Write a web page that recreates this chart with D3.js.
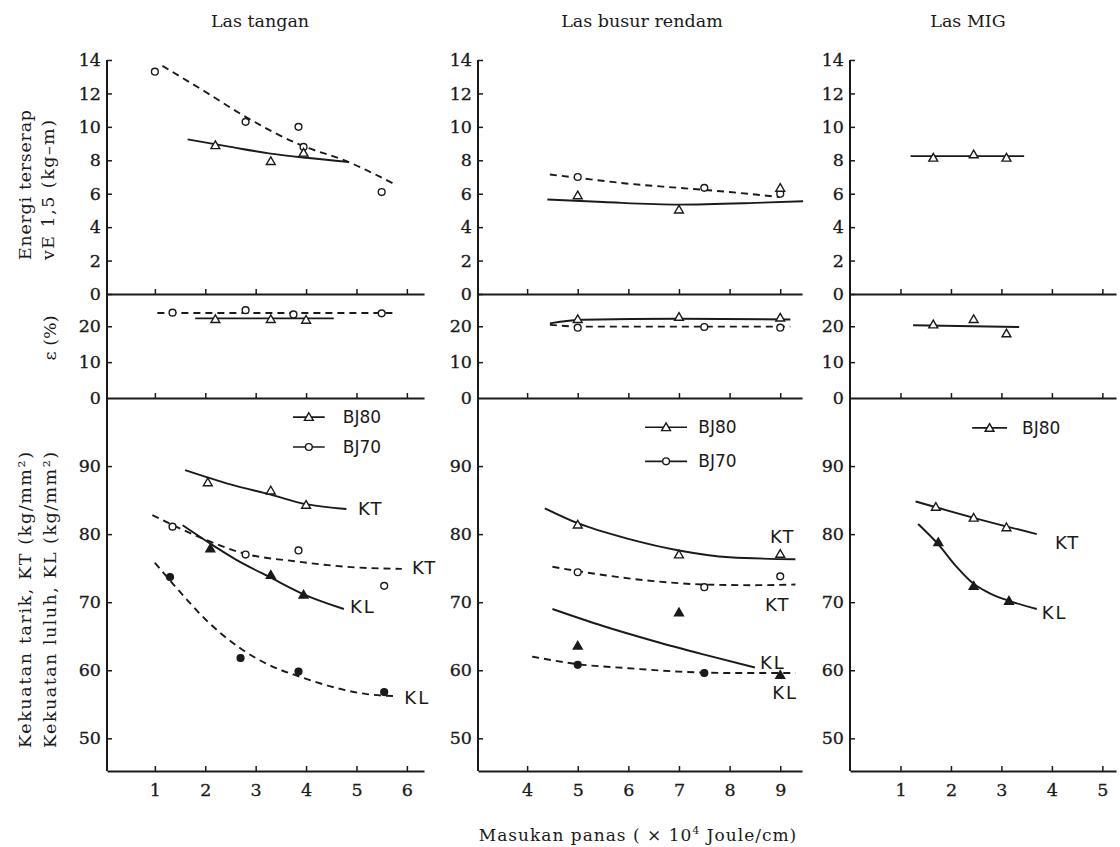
<!DOCTYPE html>
<html>
<head>
<meta charset="utf-8">
<script src="https://cdn.jsdelivr.net/npm/d3@7"></script>
<style>
  body { margin: 0; background: #fff; }
  svg text { fill: #1a1a1a; }
</style>
</head>
<body>
<svg id="chart" width="1120" height="847"></svg>
<script>
// ---- Las tangan ----
const tanganVE80Pts = [[2.2, 8.9], [3.3, 7.95], [3.95, 8.45]];
const tanganVE80Fit = [[1.65, 9.25], [2.5, 8.8], [3.3, 8.4], [4.0, 8.15], [4.85, 7.9]];
const tanganVE70Pts = [[1.0, 13.3], [2.8, 10.3], [3.85, 10.0], [3.95, 8.8], [5.5, 6.1]];
const tanganVE70Fit = [[1.15, 13.65], [2.0, 12.1], [2.8, 10.6], [3.9, 8.9], [4.8, 7.95], [5.8, 6.5]];
const tanganEl80Pts = [[2.2, 22.0], [3.3, 22.0], [4.0, 21.8]];
const tanganEl80Fit = [[1.8, 22.2], [4.55, 22.2]];
const tanganEl70Pts = [[1.35, 23.8], [2.8, 24.5], [3.75, 23.3], [5.5, 23.6]];
const tanganEl70Fit = [[1.05, 23.7], [5.75, 23.7]];
const tanganKT80Pts = [[2.05, 87.6], [3.3, 86.4], [4.0, 84.3]];
const tanganKT80Fit = [[1.6, 89.4], [2.5, 87.3], [3.3, 85.8], [4.0, 84.4], [4.8, 83.7]];
const tanganKT70Pts = [[1.35, 81.1], [2.8, 77.0], [3.85, 77.6], [5.55, 72.4]];
const tanganKT70Fit = [[0.95, 82.8], [2.0, 79.2], [2.8, 77.1], [3.8, 76.0], [4.8, 75.2], [5.9, 74.9]];
const tanganKL80Pts = [[2.1, 77.9], [3.3, 74.0], [3.95, 71.1]];
const tanganKL80Fit = [[1.55, 81.3], [2.1, 78.6], [2.6, 76.3], [3.3, 73.6], [4.0, 71.0], [4.75, 69.0]];
const tanganKL70Pts = [[1.3, 73.7], [2.7, 61.8], [3.85, 59.8], [5.55, 56.8]];
const tanganKL70Fit = [[1.0, 75.8], [1.5, 71.5], [2.0, 67.5], [2.7, 63.2], [3.2, 61.0], [3.9, 59.0], [4.6, 57.4], [5.2, 56.5], [5.8, 56.2]];

// ---- Las busur rendam ----
const busurVE80Pts = [[5.0, 5.9], [7.0, 5.05], [9.0, 6.35]];
const busurVE80Fit = [[4.4, 5.65], [5.5, 5.5], [7.0, 5.35], [8.5, 5.45], [9.45, 5.55]];
const busurVE70Pts = [[5.0, 7.0], [7.5, 6.35], [9.0, 6.0]];
const busurVE70Fit = [[4.45, 7.15], [5.0, 6.95], [6.0, 6.6], [7.0, 6.35], [8.0, 6.1], [9.0, 5.8]];
const busurEl80Pts = [[5.0, 22.0], [7.0, 22.6], [9.0, 22.4]];
const busurEl80Fit = [[4.45, 20.8], [5.1, 21.8], [7.0, 22.1], [9.2, 21.9]];
const busurEl70Pts = [[5.0, 19.6], [7.5, 19.8], [9.0, 19.6]];
const busurEl70Fit = [[4.45, 20.4], [5.1, 19.9], [9.2, 19.9]];
const busurKT80Pts = [[5.0, 81.4], [7.0, 77.0], [9.0, 77.1]];
const busurKT80Fit = [[4.35, 83.8], [5.0, 81.6], [6.0, 79.3], [7.0, 77.6], [8.0, 76.6], [9.3, 76.3]];
const busurKT70Pts = [[5.0, 74.4], [7.5, 72.2], [9.0, 73.8]];
const busurKT70Fit = [[4.5, 75.2], [5.5, 74.0], [6.5, 73.1], [7.5, 72.6], [8.5, 72.5], [9.3, 72.6]];
const busurKL80Pts = [[5.0, 63.6], [7.0, 68.5], [9.0, 59.3]];
const busurKL80Fit = [[4.5, 69.0], [5.5, 66.5], [6.5, 64.3], [7.5, 62.3], [8.5, 60.4]];
const busurKL70Pts = [[5.0, 60.8], [7.5, 59.6]];
const busurKL70Fit = [[4.1, 62.0], [5.0, 60.9], [6.0, 60.3], [7.0, 59.8], [8.0, 59.6], [9.3, 59.6]];

// ---- Las MIG ----
const migVE80Pts = [[1.65, 8.15], [2.45, 8.35], [3.1, 8.15]];
const migVE80Fit = [[1.2, 8.25], [3.45, 8.25]];
const migEl80Pts = [[1.65, 20.5], [2.45, 22.0], [3.1, 18.0]];
const migEl80Fit = [[1.25, 20.3], [3.35, 19.8]];
const migKT80Pts = [[1.7, 84.0], [2.45, 82.4], [3.1, 81.0]];
const migKT80Fit = [[1.3, 84.8], [2.45, 82.4], [3.7, 80.0]];
const migKL80Pts = [[1.75, 78.8], [2.45, 72.4], [3.15, 70.2]];
const migKL80Fit = [[1.35, 81.5], [1.75, 78.5], [2.1, 75.3], [2.45, 72.7], [2.8, 71.2], [3.15, 70.2], [3.7, 69.0]];

// tick values
const veTicks = [0, 2, 4, 6, 8, 10, 12, 14];
const elTicks = [0, 10, 20];
const kkTicks = [50, 60, 70, 80, 90];
const tanganXTicks = [1, 2, 3, 4, 5, 6];
const busurXTicks = [4, 5, 6, 7, 8, 9];
const migXTicks = [1, 2, 3, 4, 5];

const ink = '#1a1a1a';
const serif = '"DejaVu Serif", serif';
const sans = '"DejaVu Sans", sans-serif';
const svg = d3.select('#chart');

// shared vertical layout of the three stacked plots
const yVE = d3.scaleLinear().domain([0, 14]).range([294, 60]);
const yEl = d3.scaleLinear().domain([0, 29]).range([398, 294]);
const yKK = d3.scaleLinear().domain([45.2, 100]).range([771, 398]);

const panels = [
  {
    title: 'Las tangan', titleX: 260,
    x: d3.scaleLinear().domain([0.05, 6.34]).range([107, 424]),
    xTicks: tanganXTicks,
    series: [
      { pts: tanganVE70Pts, fit: tanganVE70Fit, y: yVE, dash: true, mark: 'circOpen' },
      { pts: tanganVE80Pts, fit: tanganVE80Fit, y: yVE, dash: false, mark: 'triOpen' },
      { pts: tanganEl70Pts, fit: tanganEl70Fit, y: yEl, dash: true, mark: 'circOpen' },
      { pts: tanganEl80Pts, fit: tanganEl80Fit, y: yEl, dash: false, mark: 'triOpen' },
      { pts: tanganKT80Pts, fit: tanganKT80Fit, y: yKK, dash: false, mark: 'triOpen' },
      { pts: tanganKT70Pts, fit: tanganKT70Fit, y: yKK, dash: true, mark: 'circOpen' },
      { pts: tanganKL80Pts, fit: tanganKL80Fit, y: yKK, dash: false, mark: 'triFill' },
      { pts: tanganKL70Pts, fit: tanganKL70Fit, y: yKK, dash: true, mark: 'circFill' }
    ],
    notes: [['KT', 5.03, 83.8], ['KT', 6.1, 75.0], ['KL', 4.87, 69.3], ['KL', 5.95, 56.0]],
    legend: [['BJ80', 'triOpen', 97.2], ['BJ70', 'circOpen', 92.8]],
    legendX: [3.74, 4.37, 4.73]
  },
  {
    title: 'Las busur rendam', titleX: 642,
    x: d3.scaleLinear().domain([3.03, 9.43]).range([478, 802]),
    xTicks: busurXTicks,
    series: [
      { pts: busurVE70Pts, fit: busurVE70Fit, y: yVE, dash: true, mark: 'circOpen' },
      { pts: busurVE80Pts, fit: busurVE80Fit, y: yVE, dash: false, mark: 'triOpen' },
      { pts: busurEl70Pts, fit: busurEl70Fit, y: yEl, dash: true, mark: 'circOpen' },
      { pts: busurEl80Pts, fit: busurEl80Fit, y: yEl, dash: false, mark: 'triOpen' },
      { pts: busurKT80Pts, fit: busurKT80Fit, y: yKK, dash: false, mark: 'triOpen' },
      { pts: busurKT70Pts, fit: busurKT70Fit, y: yKK, dash: true, mark: 'circOpen' },
      { pts: busurKL80Pts, fit: busurKL80Fit, y: yKK, dash: false, mark: 'triFill' },
      { pts: busurKL70Pts, fit: busurKL70Fit, y: yKK, dash: true, mark: 'circFill' }
    ],
    notes: [['KT', 8.8, 79.6], ['KT', 8.7, 69.6], ['KL', 8.6, 61.1], ['KL', 8.84, 56.7]],
    legend: [['BJ80', 'triOpen', 95.7], ['BJ70', 'circOpen', 90.7]],
    legendX: [6.33, 7.16, 7.38]
  },
  {
    title: 'Las MIG', titleX: 968,
    x: d3.scaleLinear().domain([0, 5.27]).range([850, 1116]),
    xTicks: migXTicks,
    series: [
      { pts: migVE80Pts, fit: migVE80Fit, y: yVE, dash: false, mark: 'triOpen' },
      { pts: migEl80Pts, fit: migEl80Fit, y: yEl, dash: false, mark: 'triOpen' },
      { pts: migKT80Pts, fit: migKT80Fit, y: yKK, dash: false, mark: 'triOpen' },
      { pts: migKL80Pts, fit: migKL80Fit, y: yKK, dash: false, mark: 'triFill' }
    ],
    notes: [['KT', 4.06, 78.7], ['KL', 3.8, 68.4]],
    legend: [['BJ80', 'triOpen', 95.6]],
    legendX: [2.42, 3.11, 3.41]
  }
];

const tri = d3.symbol().type(d3.symbolTriangle).size(34);

function drawMark(g, kind, cx, cy) {
  if (kind === 'circOpen' || kind === 'circFill') {
    g.append('circle').attr('cx', cx).attr('cy', cy).attr('r', 3.4)
      .style('fill', kind === 'circFill' ? ink : '#fff')
      .style('stroke', ink).style('stroke-width', 1.4);
  } else {
    g.append('path').attr('d', tri())
      .attr('transform', `translate(${cx},${cy + 0.8})`)
      .style('fill', kind === 'triFill' ? ink : '#fff')
      .style('stroke', ink).style('stroke-width', 1.4);
  }
}

function styleAxis(ax) {
  ax.selectAll('line').style('stroke', ink).style('stroke-width', 1.5);
  ax.selectAll('path').style('stroke', ink).style('stroke-width', 2);
  ax.selectAll('text').style('font-family', serif).style('font-size', '17.5px')
    .style('fill', ink).style('stroke', ink).style('stroke-width', 0.3);
}

panels.forEach(p => {
  const g = svg.append('g');
  const x = p.x;
  const x0 = x.range()[0];

  g.append('text')
    .attr('x', p.titleX).attr('y', 27)
    .style('text-anchor', 'middle')
    .style('font-family', serif).style('font-size', '17.5px')
    .text(p.title);

  // vertical axis line through the three stacked plots
  g.append('line')
    .attr('x1', x0).attr('x2', x0)
    .attr('y1', yVE(14)).attr('y2', yKK.range()[0])
    .style('stroke', ink).style('stroke-width', 2);

  // y ticks, drawn inward
  [[yVE, veTicks], [yEl, elTicks.filter(v => v > 0)], [yKK, kkTicks]].forEach(([ys, tv]) => {
    const ax = g.append('g').attr('transform', `translate(${x0},0)`)
      .call(d3.axisLeft(ys).tickValues(tv).tickSizeInner(-5).tickSizeOuter(0).tickPadding(6));
    ax.select('.domain').remove();
    styleAxis(ax);
  });
  // zero label of the ε plot
  g.append('text')
    .attr('x', x0 - 6).attr('y', yEl(0)).attr('dy', '0.32em')
    .style('text-anchor', 'end')
    .style('font-family', serif).style('font-size', '17.5px')
    .style('stroke', ink).style('stroke-width', 0.3)
    .text('0');

  // horizontal base lines with upward ticks
  [yVE(0), yEl(0)].forEach(yy => {
    const ax = g.append('g').attr('transform', `translate(0,${yy})`)
      .call(d3.axisBottom(x).tickValues(p.xTicks).tickSizeInner(-5).tickSizeOuter(0).tickFormat(''));
    styleAxis(ax);
  });
  const bx = g.append('g').attr('transform', `translate(0,${yKK.range()[0]})`)
    .call(d3.axisBottom(x).tickValues(p.xTicks).tickSizeInner(-5).tickSizeOuter(0)
      .tickPadding(10).tickFormat(d3.format('d')));
  styleAxis(bx);
  bx.selectAll('text').attr('dy', '0.85em');

  // fitted curves
  p.series.forEach(s => {
    const line = d3.line().x(d => x(d[0])).y(d => s.y(d[1])).curve(d3.curveMonotoneX);
    g.append('path').datum(s.fit).attr('d', line)
      .style('fill', 'none').style('stroke', ink).style('stroke-width', 1.9)
      .style('stroke-dasharray', s.dash ? '7,5' : null);
  });
  // measured points
  p.series.forEach(s => {
    s.pts.forEach(d => drawMark(g, s.mark, x(d[0]), s.y(d[1])));
  });

  // curve labels
  p.notes.forEach(([t, vx, vy]) => {
    g.append('text')
      .attr('x', x(vx)).attr('y', yKK(vy)).attr('dy', '0.35em')
      .style('font-family', sans).style('font-size', '18px').style('letter-spacing', '2px')
      .text(t);
  });

  // legend
  p.legend.forEach(([name, kind, vy]) => {
    const ly = yKK(vy);
    g.append('line')
      .attr('x1', x(p.legendX[0])).attr('x2', x(p.legendX[1]))
      .attr('y1', ly).attr('y2', ly)
      .style('stroke', ink).style('stroke-width', 1.7);
    drawMark(g, kind, (x(p.legendX[0]) + x(p.legendX[1])) / 2, ly);
    g.append('text')
      .attr('x', x(p.legendX[2])).attr('y', ly).attr('dy', '0.35em')
      .style('font-family', sans).style('font-size', '17px')
      .text(name);
  });
});

// axis titles
function vLabel(txt, cx, cy, len) {
  svg.append('text')
    .attr('transform', `translate(${cx},${cy}) rotate(-90)`)
    .attr('dy', '0.35em')
    .attr('textLength', len).attr('lengthAdjust', 'spacing')
    .style('text-anchor', 'middle')
    .style('font-family', serif).style('font-size', '17.5px')
    .text(txt);
}
vLabel('Energi terserap', 25, 185, 150);
vLabel('vE 1,5 (kg–m)', 48, 190, 140);
vLabel('Kekuatan tarik, KT (kg/mm²)', 25, 600, 296);
vLabel('Kekuatan luluh, KL (kg/mm²)', 50, 600, 296);

svg.append('text')
  .attr('transform', 'translate(50,338) rotate(-90)')
  .attr('dy', '0.35em')
  .style('text-anchor', 'middle')
  .style('font-family', serif).style('font-size', '17.5px')
  .text('ε (%)');

const xl = svg.append('text')
  .attr('x', 638).attr('y', 841)
  .style('text-anchor', 'middle')
  .style('font-family', serif).style('font-size', '17px').style('letter-spacing', '1px');
xl.append('tspan').text('Masukan panas ( × 10');
xl.append('tspan').attr('dy', -7).style('font-size', '11px').text('4');
xl.append('tspan').attr('dy', 7).text(' Joule/cm)');
</script>
</body>
</html>
